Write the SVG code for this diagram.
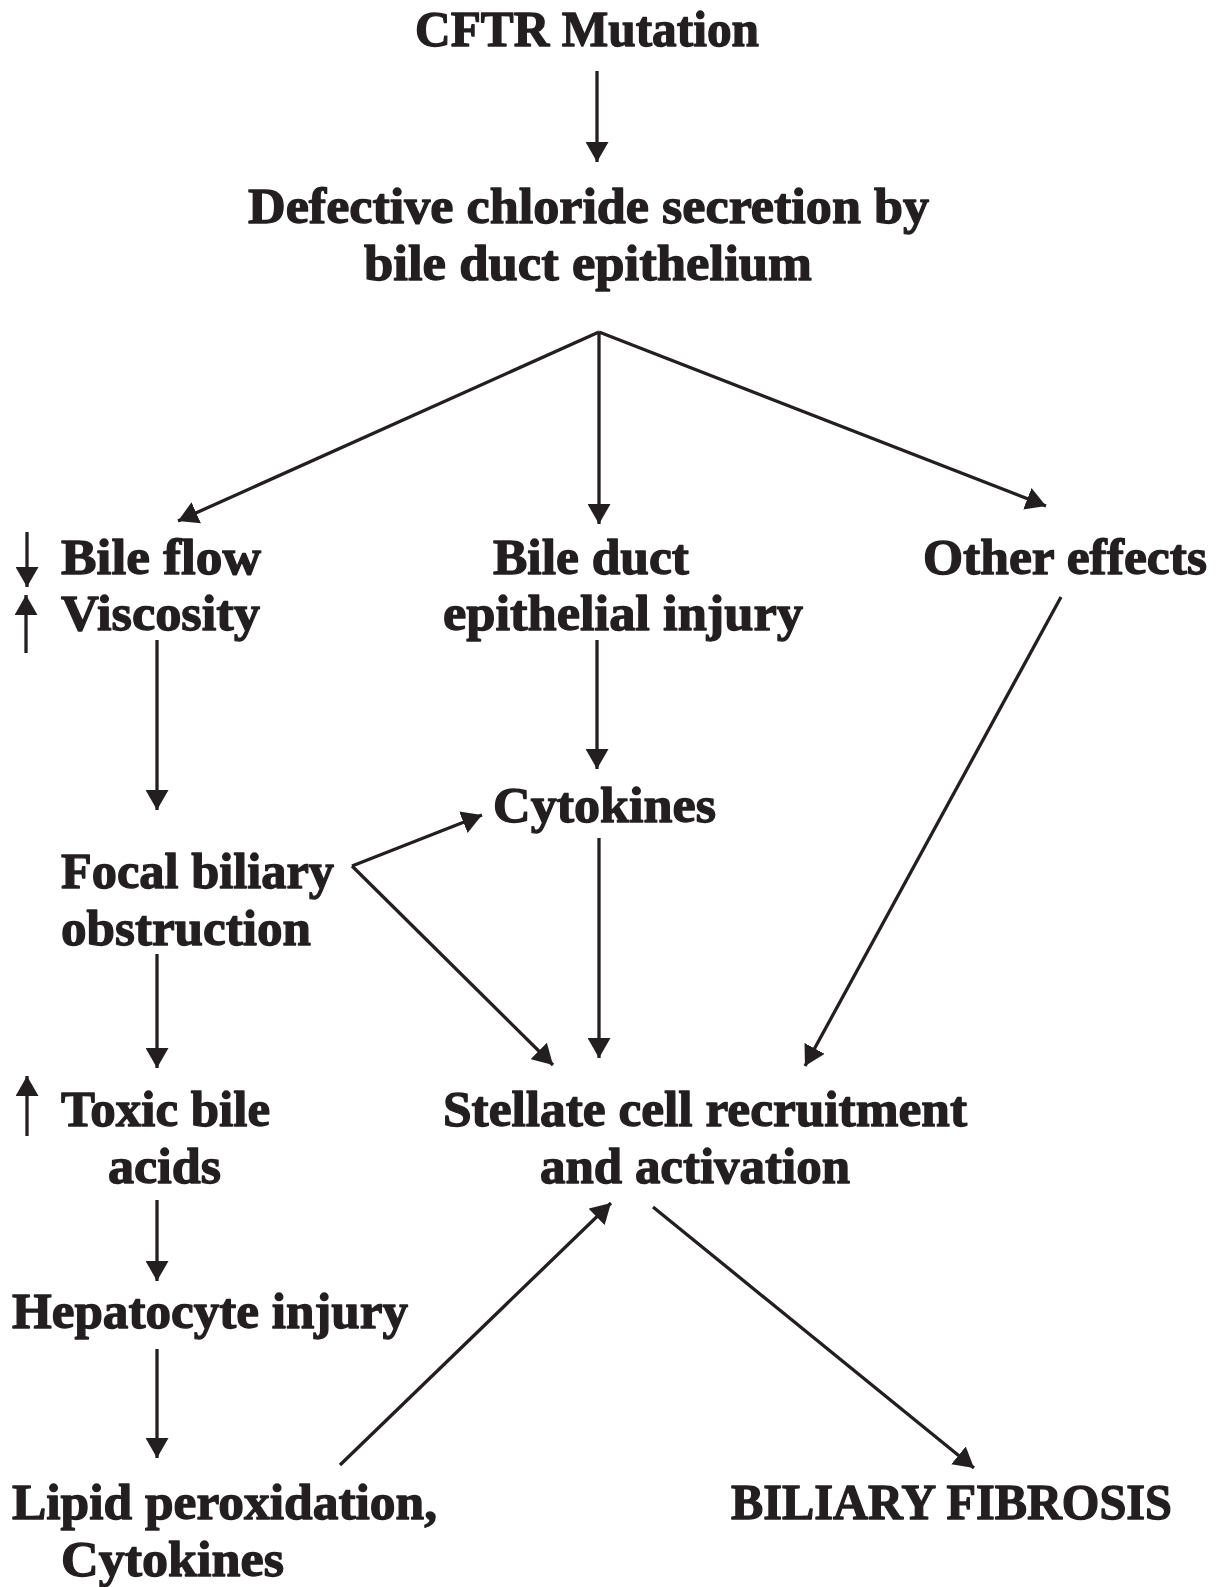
<svg xmlns="http://www.w3.org/2000/svg" width="1219" height="1587" viewBox="0 0 1219 1587">
<style>
text{font-family:"Liberation Serif","Times New Roman",serif;font-weight:bold;font-size:50px;fill:#231f20;stroke:#231f20;stroke-width:1.3;stroke-linejoin:round}
.c line{stroke:#231f20;stroke-width:3.3;fill:none}
.a{marker-end:url(#ah)}
</style>
<defs>
<marker id="ah" markerUnits="userSpaceOnUse" markerWidth="21" markerHeight="23" refX="20" refY="11.5" orient="auto">
<path d="M0,0 L20,11.5 L0,23 z" fill="#231f20"/>
</marker>
</defs>
<rect width="1219" height="1587" fill="#fff"/>
<g id="n-cftr"><text x="415" y="46" textLength="344" lengthAdjust="spacingAndGlyphs">CFTR Mutation</text></g>
<g id="n-defective">
<text x="248" y="223" textLength="681" lengthAdjust="spacingAndGlyphs">Defective chloride secretion by</text>
<text x="364" y="280" textLength="448" lengthAdjust="spacingAndGlyphs">bile duct epithelium</text>
</g>
<g id="n-bileflow">
<text x="61" y="574" textLength="200" lengthAdjust="spacingAndGlyphs">Bile flow</text>
<text x="61" y="630" textLength="199" lengthAdjust="spacingAndGlyphs">Viscosity</text>
</g>
<g id="n-bileduct">
<text x="493" y="574" textLength="196" lengthAdjust="spacingAndGlyphs">Bile duct</text>
<text x="443" y="630" textLength="360" lengthAdjust="spacingAndGlyphs">epithelial injury</text>
</g>
<g id="n-other"><text x="923" y="574" textLength="284" lengthAdjust="spacingAndGlyphs">Other effects</text></g>
<g id="n-cytokines"><text x="493" y="822" textLength="223" lengthAdjust="spacingAndGlyphs">Cytokines</text></g>
<g id="n-focal">
<text x="61" y="888" textLength="273" lengthAdjust="spacingAndGlyphs">Focal biliary</text>
<text x="61" y="945" textLength="250" lengthAdjust="spacingAndGlyphs">obstruction</text>
</g>
<g id="n-toxic">
<text x="61" y="1126" textLength="209" lengthAdjust="spacingAndGlyphs">Toxic bile</text>
<text x="108" y="1183" textLength="113" lengthAdjust="spacingAndGlyphs">acids</text>
</g>
<g id="n-stellate">
<text x="443" y="1126" textLength="524" lengthAdjust="spacingAndGlyphs">Stellate cell recruitment</text>
<text x="540" y="1183" textLength="310" lengthAdjust="spacingAndGlyphs">and activation</text>
</g>
<g id="n-hepatocyte"><text x="12" y="1328" textLength="396" lengthAdjust="spacingAndGlyphs">Hepatocyte injury</text></g>
<g id="n-lipid">
<text x="12" y="1519" textLength="425" lengthAdjust="spacingAndGlyphs">Lipid peroxidation,</text>
<text x="61" y="1576" textLength="223" lengthAdjust="spacingAndGlyphs">Cytokines</text>
</g>
<g id="n-fibrosis"><text x="731" y="1519" textLength="441" lengthAdjust="spacingAndGlyphs">BILIARY FIBROSIS</text></g>
<g id="connectors" class="c">
<line class="a" x1="597" y1="71" x2="597" y2="162"/>
<line class="a" x1="599" y1="332" x2="178" y2="521"/>
<line class="a" x1="599" y1="332" x2="599" y2="524"/>
<line class="a" x1="599" y1="332" x2="1046" y2="506"/>
<line class="a" x1="27" y1="532" x2="27" y2="587"/>
<line class="a" x1="26" y1="653" x2="26" y2="595"/>
<line class="a" x1="157" y1="640" x2="157" y2="810"/>
<line class="a" x1="597" y1="640" x2="597" y2="769"/>
<line class="a" x1="1061" y1="597" x2="805" y2="1066"/>
<line class="a" x1="352" y1="866" x2="482" y2="815"/>
<line class="a" x1="352" y1="866" x2="553" y2="1065"/>
<line class="a" x1="599" y1="838" x2="599" y2="1058"/>
<line class="a" x1="157" y1="954" x2="157" y2="1068"/>
<line class="a" x1="27" y1="1136" x2="27" y2="1076"/>
<line class="a" x1="157" y1="1200" x2="157" y2="1281"/>
<line class="a" x1="157" y1="1349" x2="157" y2="1458"/>
<line class="a" x1="340" y1="1465" x2="611" y2="1203"/>
<line class="a" x1="653" y1="1207" x2="974" y2="1468"/>
</g>
</svg>
